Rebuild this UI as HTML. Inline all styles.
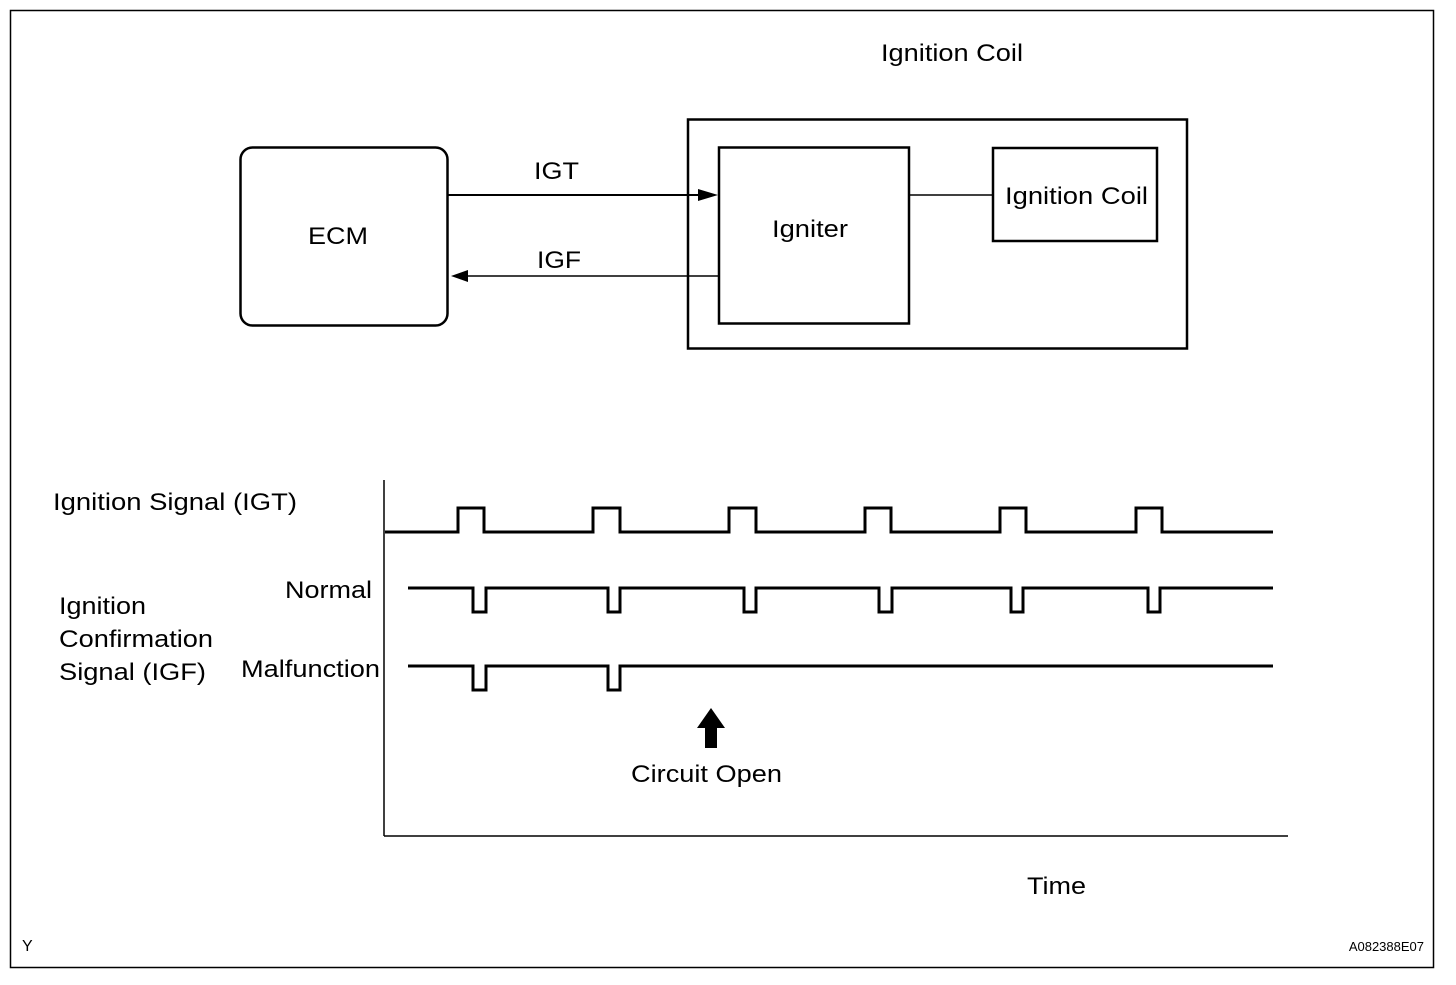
<!DOCTYPE html>
<html><head><style>
body{margin:0;background:#fff}
svg text{font-family:"Liberation Sans",Arial,sans-serif;fill:#000}
</style></head><body>
<svg width="1456" height="980" viewBox="0 0 1456 980" xmlns="http://www.w3.org/2000/svg">
<rect x="10.5" y="10.5" width="1423" height="957" fill="none" stroke="#000" stroke-width="1.5"/>
<text x="881" y="61" font-size="24" textLength="142" lengthAdjust="spacingAndGlyphs">Ignition Coil</text>
<rect x="240.5" y="147.5" width="207" height="178" rx="12" fill="none" stroke="#000" stroke-width="2.5"/>
<text x="308" y="244" font-size="24" textLength="60" lengthAdjust="spacingAndGlyphs">ECM</text>
<rect x="688" y="119.5" width="499" height="229" fill="none" stroke="#000" stroke-width="2.5"/>
<rect x="719" y="147.5" width="190" height="176" fill="none" stroke="#000" stroke-width="2.5"/>
<text x="772" y="237" font-size="24" textLength="76" lengthAdjust="spacingAndGlyphs">Igniter</text>
<rect x="993" y="148" width="164" height="93" fill="none" stroke="#000" stroke-width="2.5"/>
<text x="1005" y="204" font-size="24" textLength="143" lengthAdjust="spacingAndGlyphs">Ignition Coil</text>
<line x1="909" y1="195" x2="993" y2="195" stroke="#000" stroke-width="1.5"/>
<line x1="447" y1="195" x2="705" y2="195" stroke="#000" stroke-width="2"/>
<polygon points="718,195 698,189 698,201" fill="#000"/>
<text x="534" y="179" font-size="24" textLength="45" lengthAdjust="spacingAndGlyphs">IGT</text>
<line x1="718" y1="276" x2="465" y2="276" stroke="#000" stroke-width="1.5"/>
<polygon points="451,276 468,270 468,282" fill="#000"/>
<text x="537" y="268" font-size="24" textLength="44" lengthAdjust="spacingAndGlyphs">IGF</text>
<line x1="384" y1="480" x2="384" y2="836" stroke="#000" stroke-width="1.5"/>
<line x1="384" y1="836" x2="1288" y2="836" stroke="#000" stroke-width="1.5"/>
<text x="53" y="510" font-size="24" textLength="244" lengthAdjust="spacingAndGlyphs">Ignition Signal (IGT)</text>
<text x="285" y="598" font-size="24" textLength="87" lengthAdjust="spacingAndGlyphs">Normal</text>
<text x="59" y="614" font-size="24" textLength="87" lengthAdjust="spacingAndGlyphs">Ignition</text>
<text x="59" y="647" font-size="24" textLength="154" lengthAdjust="spacingAndGlyphs">Confirmation</text>
<text x="59" y="680" font-size="24" textLength="147" lengthAdjust="spacingAndGlyphs">Signal (IGF)</text>
<text x="241" y="677" font-size="24" textLength="139" lengthAdjust="spacingAndGlyphs">Malfunction</text>
<g fill="none" stroke="#000" stroke-width="3">
<polyline points="385,532 458,532 458,508 484,508 484,532 593,532 593,508 620,508 620,532 729,532 729,508 756,508 756,532 865,532 865,508 891,508 891,532 1000,532 1000,508 1026,508 1026,532 1136,532 1136,508 1162,508 1162,532 1273,532"/>
<polyline points="408,588 473,588 473,612 486,612 486,588 608,588 608,612 620,612 620,588 744,588 744,612 756,612 756,588 879,588 879,612 892,612 892,588 1011,588 1011,612 1023,612 1023,588 1148,588 1148,612 1160,612 1160,588 1273,588"/>
<polyline points="408,666 473,666 473,690 486,690 486,666 608,666 608,690 620,690 620,666 1273,666"/>
</g>
<polygon points="711,708 697,728 705,728 705,748 717,748 717,728 725,728" fill="#000"/>
<text x="631" y="782" font-size="24" textLength="151" lengthAdjust="spacingAndGlyphs">Circuit Open</text>
<text x="1027" y="894" font-size="24" textLength="59" lengthAdjust="spacingAndGlyphs">Time</text>
<text x="22" y="951" font-size="16">Y</text>
<text x="1424" y="951" font-size="13" text-anchor="end">A082388E07</text>
</svg>
</body></html>
